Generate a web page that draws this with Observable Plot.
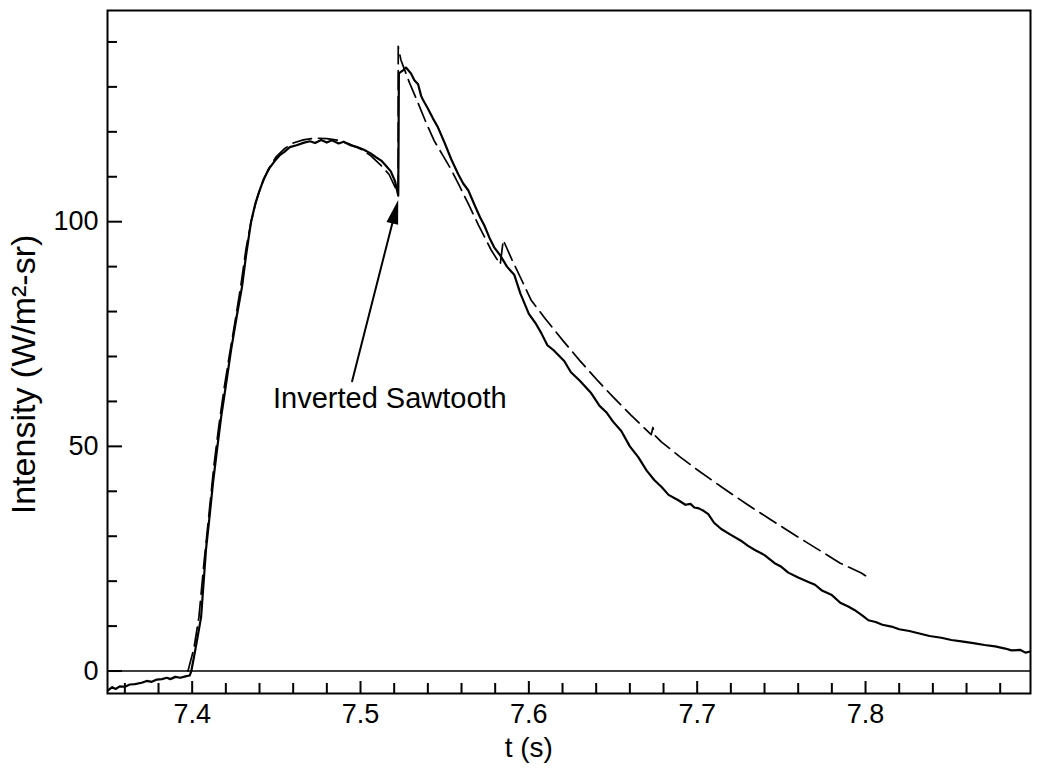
<!DOCTYPE html>
<html>
<head>
<meta charset="utf-8">
<script src="https://cdn.jsdelivr.net/npm/d3@7"></script>
<script src="https://cdn.jsdelivr.net/npm/@observablehq/plot@0.6"></script>
<style>
  html, body { margin: 0; padding: 0; background: #fff; }
  #chart svg { display: block; }
</style>
</head>
<body>
<div id="chart"></div>
<script>
// Measured radiated intensity (solid trace)
const measuredT = [
  7.3500, 7.3525, 7.3545, 7.3570, 7.3600, 7.3630, 7.3660, 7.3700, 7.3730, 7.3760,
  7.3790, 7.3820, 7.3850, 7.3870, 7.3900, 7.3930, 7.3960, 7.3985, 7.3995, 7.4020,
  7.4053, 7.4082, 7.4105, 7.4124, 7.4150, 7.4172, 7.4200, 7.4231, 7.4265, 7.4296,
  7.4320, 7.4350, 7.4375, 7.4397, 7.4425, 7.4457, 7.4490, 7.4520, 7.4546, 7.4580,
  7.4620, 7.4665, 7.4700, 7.4730, 7.4766, 7.4800, 7.4830, 7.4870, 7.4900, 7.4940,
  7.4980, 7.5020, 7.5060, 7.5090, 7.5123, 7.5150, 7.5180, 7.5205, 7.5218, 7.5224,
  7.5226, 7.5228, 7.5250, 7.5270, 7.5300, 7.5320, 7.5342, 7.5360, 7.5370, 7.5400,
  7.5430, 7.5460, 7.5500, 7.5539, 7.5580, 7.5610, 7.5640, 7.5680, 7.5710, 7.5735,
  7.5765, 7.5794, 7.5830, 7.5870, 7.5913, 7.5950, 7.6000, 7.6040, 7.6074, 7.6110,
  7.6150, 7.6210, 7.6250, 7.6300, 7.6371, 7.6420, 7.6460, 7.6500, 7.6549, 7.6600,
  7.6650, 7.6700, 7.6745, 7.6790, 7.6830, 7.6888, 7.6930, 7.6960, 7.6983, 7.7010,
  7.7040, 7.7066, 7.7100, 7.7143, 7.7200, 7.7260, 7.7300, 7.7340, 7.7400, 7.7460,
  7.7500, 7.7541, 7.7600, 7.7650, 7.7700, 7.7738, 7.7800, 7.7850, 7.7900, 7.7934,
  7.7980, 7.8017, 7.8060, 7.8100, 7.8154, 7.8200, 7.8260, 7.8314, 7.8380, 7.8450,
  7.8510, 7.8570, 7.8640, 7.8707, 7.8770, 7.8830, 7.8867, 7.8920, 7.8950, 7.8974
];
const measuredI = [
  -4.3, -3.6, -4.0, -3.4, -3.5, -3.0, -2.9, -2.6, -2.2, -2.4,
  -1.9, -1.8, -1.5, -1.8, -1.3, -1.5, -1.2, -1.0, 0.0, 5.0,
  12.0, 27.0, 35.0, 42.0, 50.0, 56.5, 63.5, 71.4, 79.0, 85.5,
  92.5, 100.0, 104.0, 106.6, 109.5, 111.8, 113.5, 114.8, 115.5, 116.6,
  117.0, 117.6, 117.9, 117.5, 118.2, 117.6, 118.1, 117.4, 117.8, 117.0,
  116.6, 116.0, 115.2, 114.4, 113.6, 112.5, 111.2, 109.0, 106.8, 105.8,
  118.0, 133.0, 133.6, 134.3, 133.0, 131.5, 130.6, 128.0, 127.2, 125.2,
  123.0, 121.0, 117.5, 113.9, 110.6, 108.5, 107.0, 103.5, 101.0, 99.2,
  96.5, 94.3, 92.5, 90.0, 88.2, 84.0, 79.5, 77.4, 75.2, 72.5,
  71.3, 69.0, 66.5, 64.7, 61.8, 59.0, 57.6, 55.5, 53.4, 50.0,
  47.6, 44.6, 42.5, 40.9, 39.2, 38.0, 37.0, 37.2, 36.4, 36.2,
  35.6, 34.9, 33.0, 31.6, 30.3, 29.0, 27.9, 27.0, 25.8, 24.0,
  23.2, 21.9, 20.8, 20.0, 19.2, 18.0, 16.9, 15.2, 14.3, 13.6,
  12.4, 11.3, 10.9, 10.3, 9.9, 9.3, 8.9, 8.4, 7.8, 7.4,
  6.9, 6.6, 6.2, 5.8, 5.5, 5.0, 4.6, 4.7, 4.1, 4.3
];

// Model fit (dashed trace)
const modelT = [
  7.3975, 7.4010, 7.4040, 7.4070, 7.4100, 7.4130, 7.4160, 7.4190, 7.4220, 7.4260,
  7.4290, 7.4320, 7.4350, 7.4380, 7.4410, 7.4450, 7.4500, 7.4550, 7.4600, 7.4660,
  7.4730, 7.4800, 7.4870, 7.4940, 7.5000, 7.5060, 7.5120, 7.5170, 7.5224, 7.5224,
  7.5240, 7.5290, 7.5342, 7.5390, 7.5438, 7.5490, 7.5540, 7.5590, 7.5640, 7.5700,
  7.5776, 7.5830, 7.5848, 7.5900, 7.5960, 7.6014, 7.6100, 7.6210, 7.6300, 7.6412,
  7.6500, 7.6608, 7.6727, 7.6737, 7.6750, 7.6787, 7.6900, 7.7000, 7.7143, 7.7300,
  7.7440, 7.7600, 7.7738, 7.7850, 7.7975, 7.8013
];
const modelI = [
  0.0, 5.0, 12.0, 24.0, 35.0, 46.0, 55.0, 63.0, 70.0, 79.0,
  86.0, 94.0, 100.0, 104.5, 108.0, 111.5, 114.5, 116.3, 117.5, 118.2,
  118.6, 118.5, 118.1, 117.2, 116.2, 114.7, 112.6, 110.5, 106.2, 139.0,
  136.0, 131.0, 126.4, 122.0, 118.0, 114.7, 111.5, 107.8, 104.0, 99.3,
  93.7, 90.5, 95.9, 91.5, 86.8, 82.5, 78.3, 73.2, 69.2, 64.5,
  61.0, 56.9, 52.6, 54.2, 52.4, 51.0, 47.6, 44.8, 41.0, 37.0,
  33.6, 29.8, 26.6, 24.0, 21.8, 20.9
];

// Axis ticks and labels
const xMajorTicks = [7.4, 7.5, 7.6, 7.7, 7.8];
const xMinorTicks = [7.36, 7.38, 7.42, 7.44, 7.46, 7.48, 7.52, 7.54, 7.56, 7.58,
                     7.62, 7.64, 7.66, 7.68, 7.72, 7.74, 7.76, 7.78, 7.82, 7.84, 7.86, 7.88];
const yMajorTicks = [0, 50, 100];
const yMinorTicks = [10, 20, 30, 40, 60, 70, 80, 90, 110, 120, 130, 140];
const xTitle = "t (s)";
const yTitle = "Intensity (W/m²-sr)";

// Annotation: label and pointer to the sawtooth crash
const noteText = ["Inverted Sawtooth"];
const noteAt = {t: 7.448, i: 60.6};
const pointerFrom = {t: 7.495, i: 64.5};
const pointerTo = {t: 7.5224, i: 104.8};

const measured = measuredT.map((t, k) => ({t, i: measuredI[k]}));
const model = modelT.map((t, k) => ({t, i: modelI[k]}));

const W = 1041, H = 768;
const mL = 107, mR = 11, mT = 10, mB = 75;
const innerW = W - mL - mR, innerH = H - mT - mB;
const font = "'Liberation Sans', Arial, Helvetica, sans-serif";

// slim filled arrowhead with its tip at the anchor point
const arrowHead = {
  draw(ctx) {
    ctx.moveTo(0, 0);
    ctx.lineTo(-6, 24);
    ctx.lineTo(6, 24);
    ctx.closePath();
  }
};

const chart = Plot.plot({
  width: W,
  height: H,
  marginLeft: mL,
  marginRight: mR,
  marginTop: mT,
  marginBottom: mB,
  style: {fontFamily: font, color: "#000", background: "#fff"},
  x: {domain: [7.3497, 7.898]},
  y: {domain: [-5, 147]},
  marks: [
    Plot.frame({stroke: "#000", strokeWidth: 2}),
    Plot.ruleY([0], {stroke: "#000", strokeWidth: 1.6}),
    // inward ticks on the bottom axis
    Plot.ruleX(xMajorTicks, {x: d => d, insetTop: innerH - 12, stroke: "#000", strokeWidth: 2}),
    Plot.ruleX(xMinorTicks, {x: d => d, insetTop: innerH - 10, stroke: "#000", strokeWidth: 2}),
    // inward ticks on the left axis
    Plot.ruleY(yMajorTicks, {y: d => d, insetRight: innerW - 15, stroke: "#000", strokeWidth: 2}),
    Plot.ruleY(yMinorTicks, {y: d => d, insetRight: innerW - 10, stroke: "#000", strokeWidth: 2}),
    Plot.axisX(xMajorTicks, {tickSize: 0, tickPadding: 10, fontSize: 27, tickFormat: d => d.toFixed(1), label: null}),
    Plot.axisY(yMajorTicks, {tickSize: 0, tickPadding: 9, fontSize: 27, tickFormat: d => String(d), label: null}),
    Plot.text([xTitle], {x: 7.6, frameAnchor: "bottom", dy: 44, lineAnchor: "top", fontSize: 28, text: d => d}),
    Plot.text([yTitle], {y: 66, frameAnchor: "left", dx: -83, rotate: -90, textAnchor: "middle",
                         fontSize: 34, text: d => d}),
    // model fit
    Plot.line(model, {x: "t", y: "i", stroke: "#000", strokeWidth: 1.7, strokeDasharray: "19,7", curve: "linear"}),
    // measurement
    Plot.line(measured, {x: "t", y: "i", stroke: "#000", strokeWidth: 2.2, curve: "linear"}),
    // annotation
    Plot.text(noteText, {x: noteAt.t, y: noteAt.i, textAnchor: "start", fontSize: 29, text: d => d}),
    Plot.arrow([0], {x1: pointerFrom.t, y1: pointerFrom.i, x2: pointerTo.t, y2: pointerTo.i,
                     headLength: 0, insetEnd: 14, stroke: "#000", strokeWidth: 2}),
    Plot.dot([0], {x: pointerTo.t, y: pointerTo.i, r: 5, symbol: arrowHead, rotate: 14.3,
                   fill: "#000", stroke: "none"})
  ]
});

document.getElementById("chart").appendChild(chart);
</script>
</body>
</html>
